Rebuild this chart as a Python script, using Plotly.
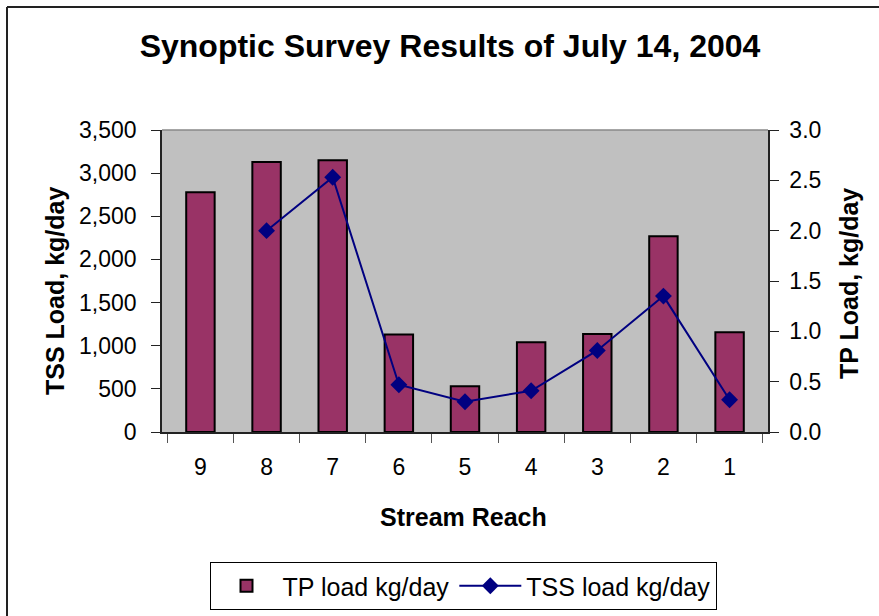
import plotly.graph_objects as go

# Stream reaches, listed upstream (9) to downstream (1)
reaches = ["9", "8", "7", "6", "5", "4", "3", "2", "1"]
# Bars on the left axis
tp_load = [2780, 3130, 3150, 1130, 530, 1040, 1135, 2270, 1155]
# Line on the right axis (no value for reach 9)
tss_load = [None, 2.00, 2.53, 0.47, 0.30, 0.41, 0.81, 1.35, 0.32]

left_ticks = [0, 500, 1000, 1500, 2000, 2500, 3000, 3500]
right_ticks = [0.0, 0.5, 1.0, 1.5, 2.0, 2.5, 3.0]

W, H = 879, 616
ML, MR, MT, MB = 162, 111, 130, 184
PW, PH = W - ML - MR, H - MT - MB

FONT = "Liberation Sans, Arial, sans-serif"


def px_x(p):
    return (p - ML) / PW


def px_y(p):
    return (H - MB - p) / PH


fig = go.Figure()
fig.add_trace(go.Bar(
    x=reaches, y=tp_load, name="TP load kg/day",
    marker=dict(color="#993366", line=dict(color="black", width=2)),
    width=0.43, yaxis="y",
))
fig.add_trace(go.Scatter(
    x=reaches, y=tss_load, name="TSS load kg/day", yaxis="y2",
    mode="lines+markers", connectgaps=False,
    line=dict(color="#000080", width=2),
    marker=dict(symbol="diamond", size=13, color="#000080"),
))

fig.update_layout(
    width=W, height=H,
    margin=dict(l=ML, r=MR, t=MT, b=MB, autoexpand=False),
    paper_bgcolor="white", plot_bgcolor="#C0C0C0",
    font=dict(family=FONT, size=23, color="black"),
    showlegend=True,
    title=dict(text="<b>Synoptic Survey Results of July 14, 2004</b>",
               x=450 / W, xanchor="center", y=1 - 46 / H, yanchor="middle",
               font=dict(family=FONT, size=32, color="black")),
    xaxis=dict(
        type="category", showgrid=False, showline=True, linecolor="#222",
        linewidth=1.5, ticks="outside", ticklen=9, tickcolor="#555",
        tickson="boundaries", tickfont=dict(size=23), ticklabelstandoff=14,
        mirror=False, automargin=False,
    ),
    yaxis=dict(
        range=[0, 3500], tickvals=left_ticks, tickformat=",d",
        showgrid=False, showline=True, linecolor="#222", linewidth=1.5,
        ticks="outside", ticklen=9, tickcolor="#222", ticklabelstandoff=10,
        tickfont=dict(size=23), zeroline=False, automargin=False,
    ),
    yaxis2=dict(
        range=[0, 3.0], tickvals=right_ticks, tickformat=".1f",
        overlaying="y", side="right", showgrid=False, showline=True,
        linecolor="#222", linewidth=1.5, ticks="outside", ticklen=9,
        tickcolor="#222", ticklabelstandoff=6, tickfont=dict(size=23),
        zeroline=False, automargin=False,
    ),
    legend=dict(
        orientation="h", x=px_x(463), xanchor="center", y=px_y(562),
        yanchor="top", bgcolor="white", bordercolor="black", borderwidth=1,
        font=dict(size=25), traceorder="normal", itemwidth=62,
    ),
    annotations=[
        dict(text="<b>TSS Load, kg/day</b>", textangle=-90, xref="paper",
             yref="paper", x=px_x(55), y=px_y(291), xanchor="center",
             yanchor="middle", showarrow=False, font=dict(size=25)),
        dict(text="<b>TP Load, kg/day</b>", textangle=-90, xref="paper",
             yref="paper", x=px_x(849), y=px_y(283), xanchor="center",
             yanchor="middle", showarrow=False, font=dict(size=25)),
        dict(text="<b>Stream Reach</b>", xref="paper", yref="paper",
             x=px_x(463), y=px_y(517), xanchor="center", yanchor="middle",
             showarrow=False, font=dict(size=25)),
    ],
    shapes=[
        # light top edge of the plot area
        dict(type="line", xref="paper", yref="paper", x0=0, x1=1, y0=1, y1=1,
             line=dict(color="#888", width=1.5)),
        # outer chart frame (top and left edges)
        dict(type="line", xref="paper", yref="paper",
             x0=px_x(7), x1=px_x(W + 5), y0=px_y(7), y1=px_y(7),
             line=dict(color="#222", width=2)),
        dict(type="line", xref="paper", yref="paper",
             x0=px_x(7), x1=px_x(7), y0=px_y(7), y1=px_y(H + 5),
             line=dict(color="#222", width=2)),
    ],
)

fig.write_html("out.html")
